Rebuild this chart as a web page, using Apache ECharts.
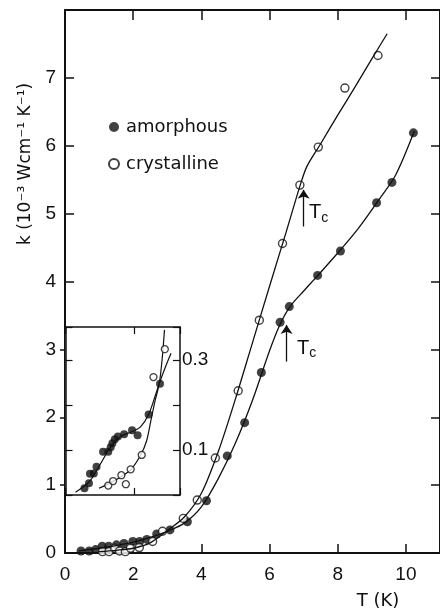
<!DOCTYPE html>
<html>
<head>
<meta charset="utf-8">
<script src="https://cdn.jsdelivr.net/npm/echarts@6/dist/echarts.min.js"></script>
<style>
html,body{margin:0;padding:0;background:#fff;}
#c{width:440px;height:611px;}
</style>
</head>
<body>
<div id="c"></div>
<script>
// ---- main plot data (T in K, k in 1e-3 W cm^-1 K^-1) ----
const amorT = [0.47,0.71,0.90,1.09,1.28,1.51,1.73,1.99,2.19,2.40,2.69,3.08,3.59,4.15,4.76,5.27,5.76,6.31,6.58,7.41,8.08,9.14,9.59,10.22];
const amorK = [0.03,0.03,0.05,0.10,0.10,0.12,0.14,0.17,0.17,0.20,0.28,0.34,0.46,0.77,1.43,1.92,2.66,3.40,3.63,4.09,4.45,5.16,5.46,6.19];
const crysT = [1.10,1.29,1.46,1.60,1.77,1.92,2.18,2.57,2.86,3.47,3.88,4.41,5.08,5.70,6.38,6.89,7.43,8.21,9.18];
const crysK = [0.02,0.02,0.07,0.03,0.02,0.07,0.08,0.17,0.32,0.51,0.78,1.40,2.39,3.43,4.56,5.42,5.98,6.85,7.33];
// hand-drawn guide curves
const amorFitT = [0.4,1.0,1.5,2.0,2.5,3.0,3.5,4.0,4.5,5.0,5.5,6.0,6.3,6.6,7.0,7.4,8.0,8.6,9.2,9.7,10.25];
const amorFitK = [0.03,0.07,0.11,0.16,0.23,0.32,0.44,0.68,1.10,1.62,2.25,2.98,3.36,3.63,3.86,4.08,4.42,4.78,5.20,5.57,6.22];
const crysFitT = [1.0,1.5,2.0,2.5,3.0,3.5,4.0,4.5,5.0,5.5,6.0,6.5,6.9,7.1,7.5,8.0,8.5,9.0,9.45];
const crysFitK = [0.02,0.04,0.07,0.15,0.33,0.53,0.88,1.50,2.27,3.10,3.93,4.75,5.42,5.70,6.03,6.45,6.86,7.28,7.65];
// ---- inset data ----
const inAmorT = [0.55,0.68,0.71,0.82,0.90,1.09,1.24,1.31,1.36,1.43,1.52,1.70,1.93,2.09,2.41,2.74];
const inAmorK = [0.015,0.026,0.047,0.048,0.063,0.096,0.096,0.106,0.115,0.124,0.130,0.135,0.144,0.133,0.179,0.247];
const inCrysT = [1.24,1.38,1.62,1.75,1.89,2.21,2.55,2.88];
const inCrysK = [0.021,0.031,0.044,0.024,0.057,0.089,0.262,0.324];
const inAmorFitT = [0.29,0.55,0.73,1.02,1.31,1.6,1.94,2.18,2.41,2.6,2.72,2.9,3.06];
const inAmorFitK = [0.006,0.02,0.033,0.07,0.107,0.13,0.141,0.152,0.179,0.22,0.248,0.285,0.315];
const inCrysFitT = [0.97,1.3,1.6,1.9,2.18,2.35,2.48,2.6,2.72,2.8,2.87];
const inCrysFitK = [0.015,0.027,0.04,0.057,0.089,0.12,0.167,0.21,0.248,0.30,0.367];
// ---- labels ----
const seriesNames = ['amorphous','crystalline'];
const yTitle = 'k (10⁻³ Wcm⁻¹ K⁻¹)';
const xTitle = 'T (K)';
const tcArrowCrys = [[7.0,4.81],[7.0,5.35]];
const tcArrowAmor = [[6.5,2.82],[6.5,3.36]];
const tcLabelCrys = [7.14,5.01];
const tcLabelAmor = [6.79,3.02];

const zip = (a,b)=>a.map((v,i)=>[v,b[i]]);
const FONT = 'Liberation Sans';
const black = '#111';

const chart = echarts.init(document.getElementById('c'), null, {renderer:'canvas'});

const mainLine = {show:true,onZero:false,lineStyle:{color:black,width:2}};
const insetLine = {show:true,onZero:false,lineStyle:{color:black,width:1.5}};
const tcLabel = {
  show:true, position:'right', distance:0,
  formatter:'{t|T}{c|c}',
  rich:{t:{fontFamily:FONT,fontSize:20,color:black,lineHeight:24},
        c:{fontFamily:FONT,fontSize:14,color:black,lineHeight:24,verticalAlign:'bottom',padding:[7,0,0,0]}}
};
const arrowLine = (pts)=>({silent:true,symbol:['none','arrow'],symbolSize:9,
  lineStyle:{color:black,width:1.3,type:'solid'},label:{show:false},
  data:[[{coord:pts[0],symbol:'none'},{coord:pts[1],symbol:'arrow'}]]});

chart.setOption({
  animation:false,
  backgroundColor:'#fff',
  grid:[
    {left:65,top:10,width:377.6,height:543,show:false},
    {left:65.5,top:327,width:114.5,height:168,show:true,backgroundColor:'#fff',borderWidth:0,z:5}
  ],
  xAxis:[
    {gridIndex:0,type:'value',position:'bottom',min:0,max:11,interval:2,axisLine:mainLine,splitLine:{show:false},
      axisTick:{show:true,inside:true,length:9,lineStyle:{color:black,width:1.5}},
      axisLabel:{show:true,margin:12,showMaxLabel:false,fontFamily:FONT,fontSize:19,color:black,
        formatter:v=>(v%2===0&&v<=10)?String(v):''}},
    {gridIndex:0,type:'value',position:'top',min:0,max:11,interval:2,axisLine:mainLine,splitLine:{show:false},
      axisTick:{show:true,inside:true,length:10,lineStyle:{color:black,width:1.5}},
      axisLabel:{show:false}},
    {gridIndex:1,type:'value',position:'bottom',min:0,max:3.32,interval:2,z:6,axisLine:insetLine,
      axisTick:{show:true,inside:true,length:7,lineStyle:{color:black,width:1.2}},
      axisLabel:{show:false},splitLine:{show:false}},
    {gridIndex:1,type:'value',position:'top',min:0,max:3.32,interval:2,z:6,axisLine:insetLine,
      axisTick:{show:true,inside:true,length:7,lineStyle:{color:black,width:1.2}},
      axisLabel:{show:false},splitLine:{show:false}}
  ],
  yAxis:[
    {gridIndex:0,type:'value',position:'left',min:0,max:8,interval:1,axisLine:mainLine,splitLine:{show:false},
      axisTick:{show:true,inside:true,length:9,customValues:[4,5,6,7],lineStyle:{color:black,width:1.5}},
      axisLabel:{show:true,margin:9,fontFamily:FONT,fontSize:19,color:black,
        formatter:v=>(v<=7)?String(v):''}},
    {gridIndex:0,type:'value',position:'right',min:0,max:8,interval:1,axisLine:mainLine,splitLine:{show:false},
      axisTick:{show:true,inside:true,length:9,lineStyle:{color:black,width:1.5}},
      axisLabel:{show:false}},
    {gridIndex:0,type:'value',position:'left',offset:0,min:0,max:8,interval:1,
      axisLine:{show:false,onZero:false},splitLine:{show:false},axisLabel:{show:false},
      axisTick:{show:true,inside:false,length:5,customValues:[1,2,3],lineStyle:{color:black,width:1.5}}},
    {gridIndex:1,type:'value',position:'left',min:0,max:0.3733,interval:0.1,z:6,axisLine:insetLine,
      axisTick:{show:true,inside:true,length:7,lineStyle:{color:black,width:1.2}},
      axisLabel:{show:false},splitLine:{show:false}},
    {gridIndex:1,type:'value',position:'right',min:0,max:0.3733,interval:0.1,z:6,axisLine:insetLine,
      axisTick:{show:true,inside:true,length:7,lineStyle:{color:black,width:1.2}},
      axisLabel:{show:true,margin:2,fontFamily:FONT,fontSize:19,color:black,
        formatter:v=>Math.abs(v-0.1)<1e-6?'0.1':(Math.abs(v-0.3)<1e-6?'0.3':'')},
      splitLine:{show:false}}
  ],
  legend:{
    data:[{name:seriesNames[0],icon:'circle'},{name:seriesNames[1],icon:'circle'}],
    orient:'vertical',left:103,top:112,itemWidth:10,itemHeight:10,itemGap:17,
    textStyle:{fontFamily:'DejaVu Sans',fontSize:18,color:black,lineHeight:20,padding:[0,0,0,2]},
    selectedMode:false
  },
  series:[
    {type:'line',name:'amorFit',xAxisIndex:0,yAxisIndex:0,data:zip(amorFitT,amorFitK),
      smooth:0.3,showSymbol:false,lineStyle:{color:black,width:1.3},
      markLine:arrowLine(tcArrowAmor),
      markPoint:{silent:true,symbol:'circle',symbolSize:1,itemStyle:{color:'rgba(0,0,0,0)'},
        label:tcLabel,data:[{coord:tcLabelAmor}]}},
    {type:'line',name:'crysFit',xAxisIndex:0,yAxisIndex:0,data:zip(crysFitT,crysFitK),
      smooth:0.3,showSymbol:false,lineStyle:{color:black,width:1.3},
      markLine:arrowLine(tcArrowCrys),
      markPoint:{silent:true,symbol:'circle',symbolSize:1,itemStyle:{color:'rgba(0,0,0,0)'},
        label:tcLabel,data:[{coord:tcLabelCrys}]}},
    {type:'scatter',name:seriesNames[0],xAxisIndex:0,yAxisIndex:0,data:zip(amorT,amorK),
      symbol:'circle',symbolSize:9,itemStyle:{color:black,borderColor:black,borderWidth:0}},
    {type:'scatter',name:seriesNames[1],xAxisIndex:0,yAxisIndex:0,data:zip(crysT,crysK),
      symbol:'circle',symbolSize:8,itemStyle:{color:'#fff',borderColor:black,borderWidth:1.4}},
    // inset
    {type:'line',name:'inAmorFit',xAxisIndex:2,yAxisIndex:3,data:zip(inAmorFitT,inAmorFitK),z:7,
      smooth:0.3,showSymbol:false,lineStyle:{color:black,width:1.2}},
    {type:'line',name:'inCrysFit',xAxisIndex:2,yAxisIndex:3,data:zip(inCrysFitT,inCrysFitK),z:7,
      smooth:0.3,showSymbol:false,lineStyle:{color:black,width:1.2}},
    {type:'scatter',name:'inset amorphous',xAxisIndex:2,yAxisIndex:3,data:zip(inAmorT,inAmorK),z:8,
      symbol:'circle',symbolSize:8,itemStyle:{color:black}},
    {type:'scatter',name:'inset crystalline',xAxisIndex:2,yAxisIndex:3,data:zip(inCrysT,inCrysK),z:8,
      symbol:'circle',symbolSize:7,itemStyle:{color:'#fff',borderColor:black,borderWidth:1.3}}
  ],
  graphic:[
    {type:'text',x:26,y:164,rotation:Math.PI/2,
      style:{text:yTitle,font:'17px "DejaVu Sans"',fill:black,align:'center',verticalAlign:'middle'}},
    {type:'text',x:378,y:601,
      style:{text:xTitle,font:'18px "DejaVu Sans"',fill:black,align:'center',verticalAlign:'middle'}}
  ]
});
</script>
</body>
</html>
